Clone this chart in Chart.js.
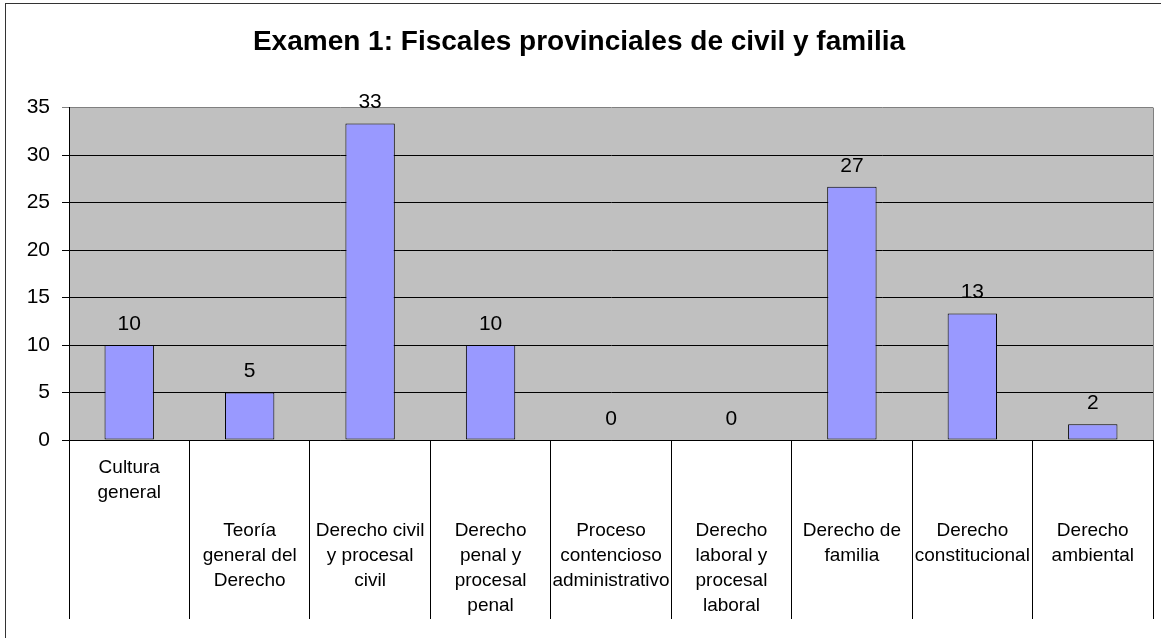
<!DOCTYPE html>
<html>
<head>
<meta charset="utf-8">
<script src="https://cdn.jsdelivr.net/npm/chart.js@4/dist/chart.umd.min.js"></script>
<style>
  html, body { margin: 0; padding: 0; background: #fff; }
  #wrap { width: 1161px; height: 638px; }
</style>
</head>
<body>
<div id="wrap"><canvas id="chart"></canvas></div>
<script>
// categories (already wrapped the way the original chart shows them)
var categories = [
    ['Cultura', 'general'],
    ['Teoría', 'general del', 'Derecho'],
    ['Derecho civil', 'y procesal', 'civil'],
    ['Derecho', 'penal y', 'procesal', 'penal'],
    ['Proceso', 'contencioso', 'administrativo'],
    ['Derecho', 'laboral y', 'procesal', 'laboral'],
    ['Derecho de', 'familia'],
    ['Derecho', 'constitucional'],
    ['Derecho', 'ambiental']
];
// blank half-lines before each label (first one sits higher, like in the original)
var labelDrop = [0, 5, 5, 5, 5, 5, 5, 5, 5];
var values = [10, 5, 33.33, 10, 0, 0, 26.67, 13.33, 1.67];
var yTicks = [0, 5, 10, 15, 20, 25, 30, 35];

var FONT = '"Liberation Sans", Arial, sans-serif';

// build the tick label with half-height spacer lines
function tickLines(i) {
    var out = [];
    for (var k = 0; k < labelDrop[i]; k++) out.push('');
    categories[i].forEach(function (l, j) {
        if (j > 0) out.push('');
        out.push(l);
    });
    return out;
}

var frame = {
    id: 'frame',
    beforeDraw: function (chart) {
        var c = chart.ctx, a = chart.chartArea;
        c.save();
        c.fillStyle = '#fff';
        c.fillRect(0, 0, chart.width, chart.height);
        c.fillStyle = '#C0C0C0';
        c.fillRect(a.left, a.top, a.right - a.left, a.bottom - a.top);
        c.strokeStyle = '#333';
        c.lineWidth = 1;
        c.strokeRect(5.5, 3.5, 1300, 800);
        c.restore();
    },
    afterDraw: function (chart) {
        var c = chart.ctx, a = chart.chartArea;
        c.save();
        c.strokeStyle = '#808080';
        c.lineWidth = 1;
        c.beginPath();
        c.moveTo(a.right + 0.5, a.top);
        c.lineTo(a.right + 0.5, a.bottom);
        c.stroke();
        c.restore();
    }
};

var valueLabels = {
    id: 'valueLabels',
    afterDatasetsDraw: function (chart) {
        var c = chart.ctx;
        var meta = chart.getDatasetMeta(0);
        c.save();
        c.fillStyle = '#000';
        c.font = '21px ' + FONT;
        c.textAlign = 'center';
        c.textBaseline = 'middle';
        meta.data.forEach(function (bar, i) {
            c.fillText(String(Math.round(values[i])), bar.x, bar.y - 21);
        });
        c.restore();
    }
};

new Chart(document.getElementById('chart'), {
    type: 'bar',
    data: {
        labels: categories.map(function (c) { return c.join(' '); }),
        datasets: [{
            data: values,
            backgroundColor: '#9999FF',
            borderColor: '#000',
            borderWidth: 1,
            borderSkipped: false,
            categoryPercentage: 1,
            barPercentage: 0.41
        }]
    },
    options: {
        responsive: true,
        maintainAspectRatio: false,
        animation: false,
        layout: { padding: { left: 5, right: 8, top: 3, bottom: 18 } },
        plugins: {
            legend: { display: false },
            tooltip: { enabled: false },
            title: {
                display: true,
                text: 'Examen 1: Fiscales provinciales de civil y familia',
                color: '#000',
                font: { family: FONT, size: 28, weight: 'bold', lineHeight: 1.2 },
                padding: { top: 22, bottom: 49 }
            }
        },
        scales: {
            x: {
                grid: {
                    offset: true,
                    drawOnChartArea: false,
                    drawTicks: true,
                    tickLength: 179,
                    color: '#000'
                },
                border: { color: '#000' },
                ticks: {
                    autoSkip: false,
                    maxRotation: 0,
                    minRotation: 0,
                    padding: -157,
                    color: '#000',
                    font: { family: FONT, size: 19, lineHeight: '12.5px' },
                    callback: function (v, i) { return tickLines(i); }
                },
                afterFit: function (s) { s.height = 180; }
            },
            y: {
                min: 0,
                max: 35,
                afterBuildTicks: function (s) {
                    s.ticks = yTicks.map(function (v) { return { value: v }; });
                },
                grid: {
                    color: function (ctx) {
                        return ctx.tick && ctx.tick.value === 35 ? '#808080' : '#000';
                    },
                    tickLength: 7
                },
                border: { color: '#000' },
                ticks: {
                    padding: 12,
                    color: '#000',
                    font: { family: FONT, size: 21 }
                },
                afterFit: function (s) { s.width = 64; }
            }
        }
    },
    plugins: [frame, valueLabels]
});
</script>
</body>
</html>
